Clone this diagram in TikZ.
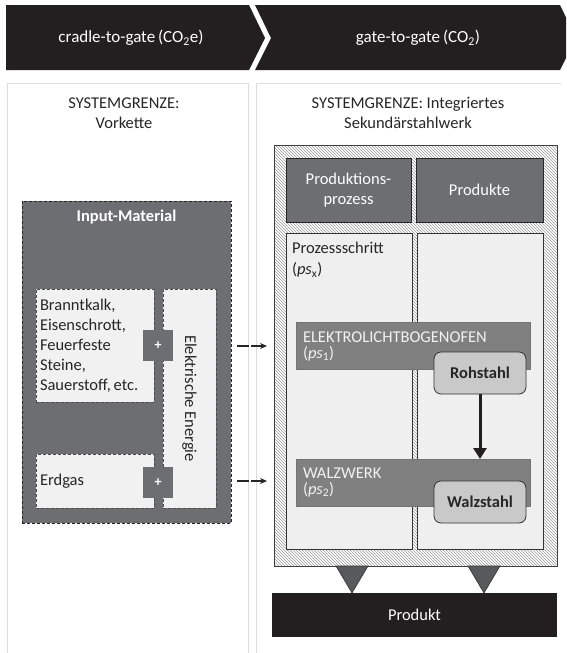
\documentclass[tikz,border=0pt]{standalone}
\usepackage{fontspec}
\setmainfont{Carlito}
\usetikzlibrary{patterns,arrows.meta}
\definecolor{bannerblack}{HTML}{231F20}
\definecolor{dgray}{HTML}{6D6E71}
\definecolor{midgray}{HTML}{808080}
\definecolor{lgray}{HTML}{F1F1F2}
\definecolor{colfill}{HTML}{EFEFEF}
\definecolor{boxgray}{HTML}{C9C9C9}
\definecolor{linegray}{HTML}{DCDCDC}
\definecolor{trigray}{HTML}{58595B}
\begin{document}
\begin{tikzpicture}[x=1pt,y=-1pt,
  every node/.style={inner sep=0pt, outer sep=0pt},
  std/.style={font=\fontsize{16.5}{20}\selectfont},
  rect/.style={anchor=north west, minimum width=#1},
  bannertext/.style={text=white, font=\fontsize{17}{20}\selectfont},
  titletext/.style={align=center, text=black!85, font=\fontsize{16.5}{20}\selectfont},
  hatchbox/.style={draw=black!75, line width=0.8pt, preaction={fill=white}, pattern=north west lines, pattern color=black!40},
  header/.style={draw=black!85, fill=dgray, text=white, line width=0.8pt, align=center, font=\fontsize{16.5}{20}\selectfont},
  column/.style={draw=black!80, fill=colfill, line width=0.8pt},
  band/.style={draw=black!55, fill=midgray, line width=0.8pt},
  bandtext/.style={anchor=north west, align=left, text=white!95!black, font=\fontsize{16.5}{16}\selectfont},
  prodbox/.style={draw=black!80, fill=boxgray, rounded corners=7pt, line width=0.8pt, font=\fontsize{16.5}{20}\selectfont\bfseries, text=black!85},
  inputbox/.style={draw=black!85, dash pattern=on 3pt off 2pt, line width=0.7pt, fill=dgray},
  lightbox/.style={draw=black!70, dash pattern=on 3pt off 2pt, line width=0.7pt, fill=lgray, font=\fontsize{16.5}{20}\selectfont, text=black!85},
  plusbox/.style={fill=dgray, text=white, font=\fontsize{14}{16}\selectfont\bfseries},
  dasharrow/.style={line width=1.3pt, draw=black!85, dash pattern=on 12pt off 2pt, -{Stealth[length=7pt,width=6pt]}},
  bigarrow/.style={line width=3pt, draw=bannerblack, -{Triangle[length=11pt,width=13pt]}},
  tri/.style={fill=trigray, draw=black!80, line width=0.6pt}
]
\clip (0,0) rectangle (566,653);
\fill[white] (0,0) rectangle (566,653);

% banners
\fill[bannerblack] (6,5) -- (249,5) -- (265,38) -- (249,70) -- (6,70) -- cycle;
\fill[bannerblack] (255,5) -- (560,5) -- (576,38) -- (560,70) -- (255,70) -- (271,38) -- cycle;
\node[bannertext] (b1) at (131,38) {cradle-to-gate\,(CO\textsubscript{2}e)};
\node[bannertext] (b2) at (418,38) {gate-to-gate\,(CO\textsubscript{2})};

% system boundary panels
\draw[linegray, line width=1pt] (7,660) -- (7,83) -- (248,83) -- (248,660);
\draw[linegray, line width=1pt] (256,660) -- (256,83) -- (561,83);
\node[titletext] (t1) at (124,113) {SYSTEMGRENZE:\\Vorkette};
\node[titletext] (t2) at (408,113) {SYSTEMGRENZE: Integriertes\\Sekundärstahlwerk};

% left side
\node[inputbox, anchor=north west, minimum width=209pt, minimum height=322pt] (input) at (22,201) {};
\node[text=white, font=\fontsize{16.5}{20}\selectfont\bfseries] (inputlabel) at (126.5,217) {Input-Material};
\node[lightbox, anchor=north west, minimum width=53pt, minimum height=219pt] (elek) at (163,289) {};
\node[rotate=-90, font=\fontsize{16.5}{20}\selectfont, text=black!85] (elektext) at (elek.center) {Elektrische Energie};
\node[lightbox, anchor=north west, minimum width=118pt, minimum height=113pt, text width=110pt, align=left, inner xsep=4pt] (brannt) at (36,289) {Branntkalk,\\Eisenschrott,\\Feuerfeste\\Steine,\\Sauerstoff,\,etc.};
\node[lightbox, anchor=north west, minimum width=118pt, minimum height=54pt, text width=110pt, align=left, inner xsep=4pt] (erdgas) at (36,454) {Erdgas};
\node[plusbox, anchor=north west, minimum width=30pt, minimum height=31pt] (plus1) at (143,330) {+};
\node[plusbox, anchor=north west, minimum width=30pt, minimum height=31pt] (plus2) at (143,467) {+};

% connecting arrows
\coordinate (a1s) at (237,346);
\coordinate (a1e) at (267,346);
\coordinate (a2s) at (237,481);
\coordinate (a2e) at (267,481);
\draw[dasharrow] (a1s) -- (a1e);
\draw[dasharrow] (a2s) -- (a2e);

% right side
\node[hatchbox, anchor=north west, minimum width=283pt, minimum height=421pt] (werk) at (274,145) {};
\node[header, anchor=north west, minimum width=125pt, minimum height=64pt] (prozess) at (286,158) {Produktions-\\prozess};
\node[header, anchor=north west, minimum width=127pt, minimum height=64pt] (produkte) at (416,158) {Produkte};
\node[column, anchor=north west, minimum width=126pt, minimum height=316pt] (col1) at (286,233) {};
\node[column, anchor=north west, minimum width=126pt, minimum height=316pt] (col2) at (417,233) {};
\node[anchor=north west, align=left, text=black!85, font=\fontsize{16.5}{21}\selectfont] (pstext) at (292,242) {Prozessschritt\\(\textit{ps}\textsubscript{x})};

\node[band, anchor=north west, minimum width=234pt, minimum height=47pt] (ebo) at (296,322) {};
\node[bandtext] (ebotext) at (303,331.5) {ELEKTROLICHTBOGENOFEN\\(\textit{ps}\textsubscript{1})};
\node[prodbox, anchor=north west, minimum width=92pt, minimum height=42pt] (roh) at (434,352) {Rohstahl};

\node[band, anchor=north west, minimum width=234pt, minimum height=47pt] (walz) at (296,459) {};
\node[bandtext] (walztext) at (303,467.5) {WALZWERK\\(\textit{ps}\textsubscript{2})};
\node[prodbox, anchor=north west, minimum width=92pt, minimum height=42pt] (walzstahl) at (434,481) {Walzstahl};

\draw[bigarrow] (roh.south) -- (roh.south |- walz.north);

% output
\node[anchor=north west, minimum width=285pt, minimum height=44pt, fill=bannerblack, text=white, font=\fontsize{16.5}{20}\selectfont] (produkt) at (272,593) {Produkt};
\filldraw[tri] (336,566) -- (368,566) -- (352,593) -- cycle;
\filldraw[tri] (468,566) -- (500,566) -- (484,593) -- cycle;
\end{tikzpicture}
\end{document}
